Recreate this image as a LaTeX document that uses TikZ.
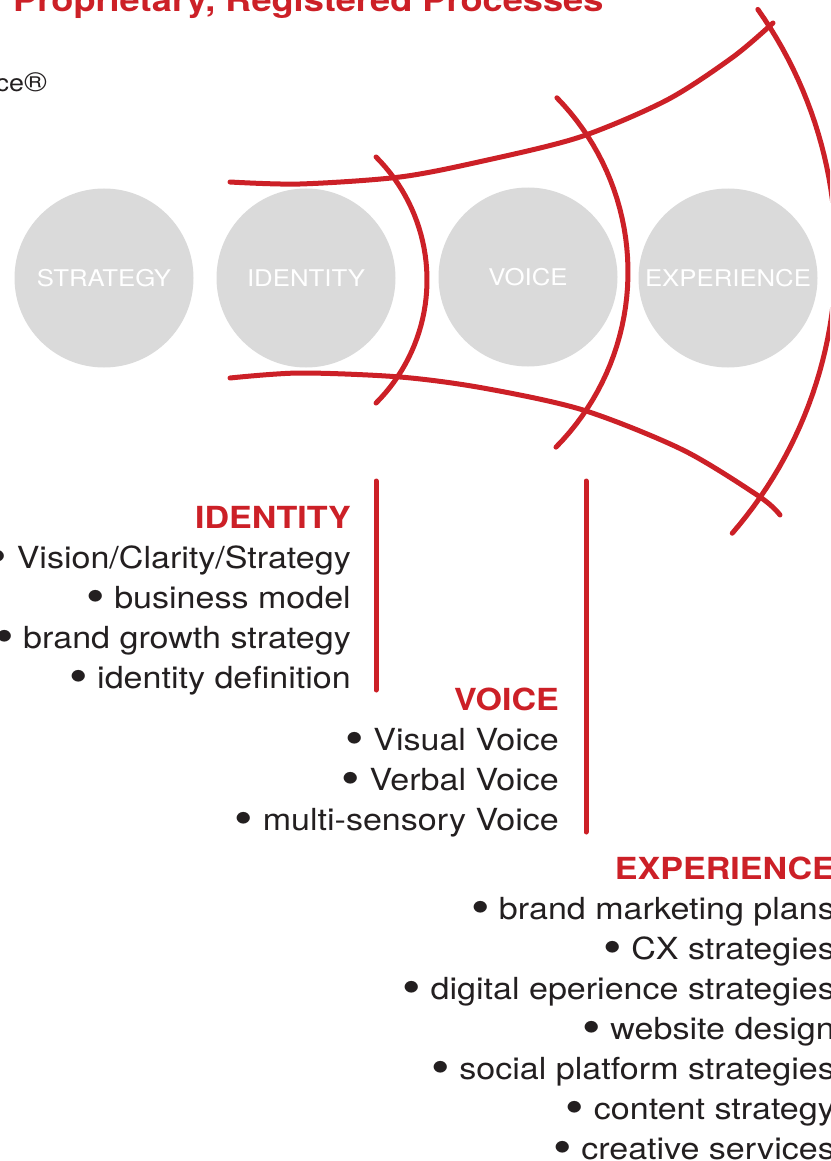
\documentclass[tikz,border=0pt]{standalone}
\usepackage{graphicx}
\usepackage{fontspec}
\setmainfont{TeX Gyre Heros}[FakeStretch=1.12]
\usetikzlibrary{positioning}
\definecolor{brandred}{RGB}{204,32,39}
\definecolor{stagegray}{RGB}{218,218,218}
\definecolor{bodytext}{RGB}{35,31,32}
\newcommand{\dotmark}{\raisebox{-4.5pt}{\scalebox{1.55}{•}}\ }

\begin{document}
\begin{tikzpicture}[x=1pt,y=-1pt,
    stage/.style={circle,fill=stagegray,minimum size=179pt,inner sep=0pt,text=white,font=\fontsize{23}{23}\selectfont},
    redline/.style={draw=brandred,line width=5pt,line cap=round},
    head/.style={anchor=base east,inner sep=0pt,text=brandred,font=\fontsize{30.4}{30.4}\selectfont\bfseries},
    item/.style={anchor=base east,inner sep=0pt,text=bodytext,font=\fontsize{30.4}{30.4}\selectfont}]
    \useasboundingbox (0,0) rectangle (830,1161);
    \clip (0,0) rectangle (830,1161);
    % Top lines
    \node[anchor=base west,inner sep=0pt,text=brandred,font=\fontsize{32.3}{32.3}\selectfont\bfseries] (title) at (13,12) {Proprietary, Registered Processes};
    \node[item,font=\fontsize{24}{24}\selectfont] (mark) at (47,92) {ce\scalebox{1.15}{®}};
    % Stages
    \node[stage] (st) at (104,278) {STRATEGY};
    \node[stage] (id) at (306,278) {IDENTITY};
    \node[stage] (vo) at (528,277) {VOICE};
    \node[stage] (ex) at (728,278) {EXPERIENCE};
    % Widening arcs
    \draw[redline] plot[smooth] coordinates {(230,182) (300,184) (400,177) (483,161) (580,137) (667,100) (733,57) (773,23)};
    \draw[redline] plot[smooth] coordinates {(230,378) (300,373) (400,377) (483,388) (583,410) (683,450) (760,497) (780,515)};
    \draw[redline] plot[domain=-45:45,samples=40] ({253+174*cos(\x)},{280+174*sin(\x)});
    \draw[redline] plot[domain=-44.4:44.7,samples=40] ({379+249*cos(\x)},{272+249*sin(\x)});
    \draw[redline] plot[domain=-35.3:40.9,samples=50] ({411+425*cos(\x)},{255+425*sin(\x)});
    % Identity list
    \draw[redline] (376,481) -- (376,690);
    \node[head] (idh) at (351,528) {IDENTITY};
    \node[item] (id1) at (351,568) {\dotmark Vision/Clarity/Strategy};
    \node[item] (id2) at (351,608) {\dotmark business model};
    \node[item] (id3) at (351,648) {\dotmark brand growth strategy};
    \node[item] (id4) at (351,688) {\dotmark identity definition};
    % Voice list
    \draw[redline] (586,481) -- (586,832);
    \node[head] (voh) at (559,710) {VOICE};
    \node[item] (vo1) at (559,750) {\dotmark Visual Voice};
    \node[item] (vo2) at (559,790) {\dotmark Verbal Voice};
    \node[item] (vo3) at (559,830) {\dotmark multi-sensory Voice};
    % Experience list
    \node[head] (exh) at (835,879) {EXPERIENCE};
    \node[item] (ex1) at (835,919) {\dotmark brand marketing plans};
    \node[item] (ex2) at (835,959) {\dotmark CX strategies};
    \node[item] (ex3) at (835,999) {\dotmark digital eperience strategies};
    \node[item] (ex4) at (835,1039) {\dotmark website design};
    \node[item] (ex5) at (835,1079) {\dotmark social platform strategies};
    \node[item] (ex6) at (835,1119) {\dotmark content strategy};
    \node[item] (ex7) at (835,1159) {\dotmark creative services};
\end{tikzpicture}
\end{document}
